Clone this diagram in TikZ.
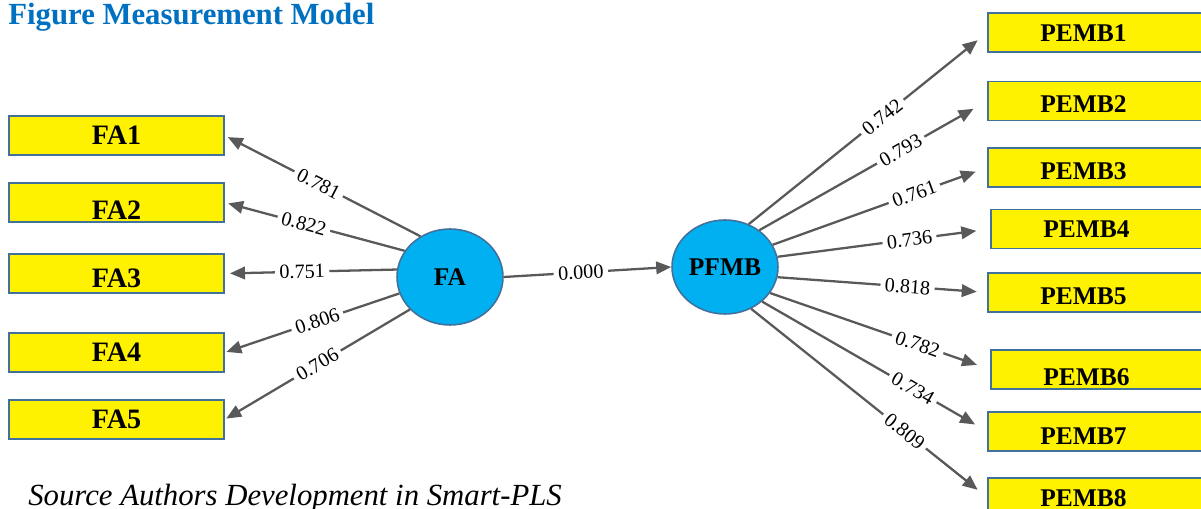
\documentclass[tikz,border=0pt]{standalone}
\usepackage{fontspec}
\setmainfont{Liberation Serif}
\usepackage{xcolor}
\definecolor{PLSblue}{HTML}{0070C0}
\definecolor{PLSedge}{HTML}{41719C}
\definecolor{PLScirc}{HTML}{00B0F0}
\definecolor{PLSarrow}{HTML}{595959}
\usepackage{tikz}
\usetikzlibrary{arrows.meta, shapes.geometric, positioning}

\begin{document}
\begin{tikzpicture}[
  x=0.02cm, y=-0.02cm,
  box/.style={draw=PLSedge, line width=0.85pt, fill=yellow, minimum width=4.3cm,
    minimum height=0.78cm, inner sep=0pt, text height=10pt, text depth=0pt,
    font=\fontsize{14.5}{16}\selectfont\bfseries},
  fabox/.style={box, text height=10.6pt, font=\fontsize{16}{18}\selectfont\bfseries},
  pembbox/.style={box, execute at begin node={\kern-0.48cm}},
  drop/.style={text height=#1},
  latent/.style={ellipse, draw=PLSedge, line width=0.9pt, fill=PLScirc,
    minimum width=2.12cm, minimum height=1.92cm, inner sep=0pt,
    font=\fontsize{14.5}{16}\selectfont\bfseries},
  arr/.style={-{Triangle[length=0.3cm, width=0.25cm]}, line width=1.3pt, color=PLSarrow},
  lbl/.style={sloped, fill=white, inner sep=2.5pt, text=black,
    font=\fontsize{11.5}{12}\selectfont}
]
\useasboundingbox (0,0) rectangle (1201,509);

\node[anchor=base west, inner sep=0pt, text=PLSblue,
  font=\fontsize{17.5}{20}\selectfont\bfseries] (title) at (8,25) {Figure Measurement Model};
\node[anchor=base west, inner sep=0pt, font=\fontsize{17.5}{20}\selectfont\itshape]
  (src) at (28,506) {Source Authors Development in Smart-PLS};

% latent variables
\node (fa) [latent] at (450,277) {FA};
\node (pfmb) [latent, minimum height=1.88cm] at (725,267) {PFMB};

% FA indicators
\node (fa1) [fabox] at (116.5,135.5) {FA1};
\node (fa2) [fabox, drop=19.5pt] at (116.5,202.5) {FA2};
\node (fa3) [fabox, drop=16pt] at (116.5,273.5) {FA3};
\node (fa4) [fabox] at (116.5,352.5) {FA4};
\node (fa5) [fabox] at (116.5,419.5) {FA5};

% PFMB indicators
\node (pemb1) [pembbox] at (1095.5,32.5) {PEMB1};
\node (pemb2) [pembbox, drop=13.4pt] at (1095.5,101) {PEMB2};
\node (pemb3) [pembbox, drop=13.4pt] at (1095.5,167.5) {PEMB3};
\node (pemb4) [pembbox] at (1098.5,229) {PEMB4};
\node (pemb5) [pembbox, drop=13.4pt] at (1095.5,292.5) {PEMB5};
\node (pemb6) [pembbox, drop=18pt] at (1098.5,369.5) {PEMB6};
\node (pemb7) [pembbox, drop=15pt] at (1095.5,431.5) {PEMB7};
\node (pemb8) [pembbox] at (1095.5,497.5) {PEMB8};

% outer loadings of FA
\draw[arr, shorten >=2pt] (fa.126) -- node[lbl, pos=0.52] {0.781} (fa1.east);
\draw[arr, shorten >=2pt] (fa.150) -- node[lbl, pos=0.56] {0.822} (fa2.east);
\draw[arr, shorten >=3pt] (fa.172) -- node[lbl, pos=0.55] {0.751} (fa3.east);
\draw[arr, shorten >=1pt] (fa.198) -- node[lbl, pos=0.47] {0.806} (fa4.east);
\draw[arr, shorten >=1pt] (fa.219) -- node[lbl, pos=0.50] {0.706} (fa5.east);

% path coefficient
\draw[arr] (fa.east) -- node[lbl, pos=0.46] {0.000} (pfmb.west);

% outer loadings of PFMB
\draw[arr, shorten >=7pt] (pfmb.61) -- node[lbl, pos=0.56] {0.742} (pemb1.west);
\draw[arr, shorten >=9pt] (pfmb.47) -- node[lbl, pos=0.62] {0.793} (pemb2.west);
\draw[arr, shorten >=7pt] (pfmb.25) -- node[lbl, pos=0.66] {0.761} (pemb3.west);
\draw[arr, shorten >=8pt] (pfmb.11) -- node[lbl, pos=0.62] {0.736} (pemb4.west);
\draw[arr, shorten >=6pt] (pfmb.-11) -- node[lbl, pos=0.62] {0.818} (pemb5.west);
\draw[arr, shorten >=8pt] (pfmb.-30) -- node[lbl, pos=0.67] {0.782} (pemb6.west);
\draw[arr, shorten >=8pt] (pfmb.-43) -- node[lbl, pos=0.67] {0.734} (pemb7.west);
\draw[arr, shorten >=7pt] (pfmb.-58) -- node[lbl, pos=0.65] {0.809} (pemb8.west);
\end{tikzpicture}
\end{document}
